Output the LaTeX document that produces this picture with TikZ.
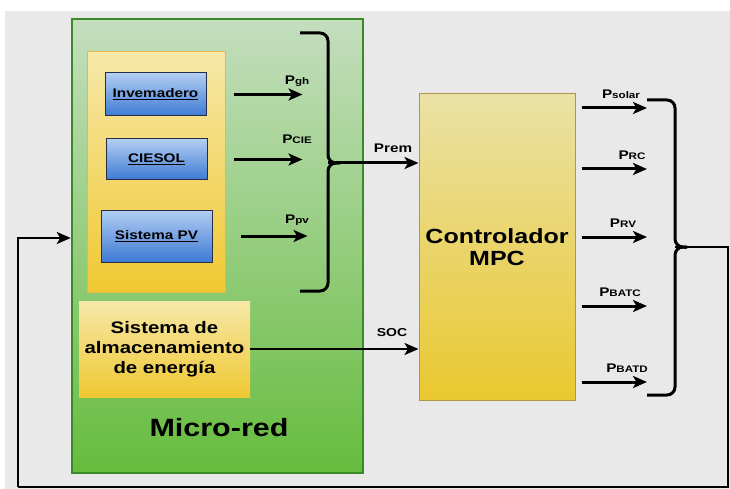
\documentclass[tikz,border=0pt]{standalone}
\usepackage{fontspec}
\setmainfont{Liberation Sans}[FakeStretch=1.22]
\usepackage{tikz}
\usetikzlibrary{arrows.meta,positioning,calc}
\definecolor{bggray}{RGB}{233,233,233}
\definecolor{mrtop}{RGB}{196,222,190}
\definecolor{mrbot}{RGB}{102,188,62}
\definecolor{mrline}{RGB}{58,138,42}
\definecolor{futop}{RGB}{246,232,168}
\definecolor{fubot}{RGB}{240,200,50}
\definecolor{fuline}{RGB}{232,182,70}
\definecolor{mpctop}{RGB}{234,225,165}
\definecolor{mpcbot}{RGB}{234,200,48}
\definecolor{mpcline}{RGB}{178,150,72}
\definecolor{srctop}{RGB}{178,206,242}
\definecolor{srcbot}{RGB}{62,122,212}
\definecolor{srcline}{RGB}{36,46,72}
\newcommand{\psub}[1]{\textbf{P}{\fontsize{9.5}{10}\selectfont\bfseries #1}}

\begin{document}
\begin{tikzpicture}[x=1pt, y=-1pt,
  box/.style={rectangle, draw, inner sep=0pt, align=center},
  src/.style={box, draw=srcline, line width=1pt, top color=srctop, bottom color=srcbot,
              minimum width=101pt, minimum height=43pt, font=\fontsize{12.5}{14}\selectfont\bfseries},
  lbl/.style={inner sep=0pt, font=\fontsize{12.5}{14}\selectfont\bfseries},
  arr/.style={-{Stealth[length=14pt,width=12pt,inset=3.5pt]}, line width=3pt},
  brace/.style={line width=3pt, rounded corners=8pt},
  fb/.style={line width=2.2pt},
]
\useasboundingbox (0,0) rectangle (730,489);
\fill[bggray] (5,11) rectangle (730,489);

% micro-red
\node[box, draw=mrline, line width=2.5pt, top color=mrtop, bottom color=mrbot,
      minimum width=291pt, minimum height=454pt] (microred) at (217.5,246) {};
\node[font=\fontsize{25}{28}\selectfont\bfseries] (mrlabel) at (219,428) {Micro-red};
\node[box, draw=fuline, line width=1pt, top color=futop, bottom color=fubot,
      minimum width=138pt, minimum height=240pt] (fuentes) at (156,172) {};
\node[src] (inver) at (155.5,94.5) {\underline{Invemadero}};
\node[src, minimum height=41pt] (ciesol) at (156.5,159.5) {\underline{CIESOL}};
\node[src, minimum width=111pt, minimum height=52pt] (pv) at (156.5,236) {\underline{Sistema PV}};
\node[box, draw=none, top color=futop, bottom color=fubot, minimum width=171pt, minimum height=96pt,
      font=\fontsize{16.7}{20}\selectfont\bfseries] (almac) at (164.5,349)
      {Sistema de\\almacenamiento\\de energía};

% controlador
\node[box, draw=mpcline, line width=1pt, top color=mpctop, bottom color=mpcbot,
      minimum width=156pt, minimum height=306pt, font=\fontsize{20.5}{22}\selectfont\bfseries]
      (mpc) at (497,247) {Controlador\\MPC};

% potencias de la micro-red
\coordinate (pgh) at ([xshift=96pt]inver.east);
\coordinate (pcie) at ([xshift=95pt]ciesol.east);
\coordinate (ppv) at ([xshift=95pt]pv.east);
\draw[arr] ([xshift=27pt]inver.east) -- (pgh);
\draw[arr] ([xshift=26pt]ciesol.east) -- (pcie);
\draw[arr] ([xshift=28pt]pv.east) -- (ppv);
\node[lbl] (lgh) at (297,81) {\psub{gh}};
\node[lbl] (lcie) at (297,139) {\psub{CIE}};
\node[lbl] (lpv) at (297,220) {\psub{pv}};

% llave de entrada
\coordinate (btop) at (300,33);
\coordinate (bbot) at (300,291);
\coordinate (btip) at (328,163);
\draw[brace] (btop) -- (btop -| btip) -- (btip) -- ++(12,0);
\draw[brace] (bbot) -- (bbot -| btip) -- (btip) -- ++(12,0);
\draw[arr] (btip) -- (btip -| mpc.west);
\node[lbl] (lrem) at (393,148) {Prem};

\draw[arr, line width=2.2pt] (almac.east) -- (almac.east -| mpc.west);
\node[lbl, font=\fontsize{11.5}{13}\selectfont\bfseries] (lsoc) at (392,333) {SOC};

% salidas del controlador
\foreach \yy/\sb/\lx in {108/solar/621, 169/RC/632, 237/RV/623, 306/BATC/620, 382/BATD/627}{
  \draw[arr] ($(mpc.east |- 0,\yy)+(6,0)$) coordinate (o\sb) -- (647,\yy);
  \node[lbl] (l\sb) at (\lx,\yy-14) {\psub{\sb}};
}

% llave de salida y realimentacion
\coordinate (rtop) at (647,100);
\coordinate (rbot) at (647,395);
\coordinate (rtip) at (675,247);
\draw[brace] (rtop) -- (rtop -| rtip) -- (rtip) -- ++(12,0);
\draw[brace] (rbot) -- (rbot -| rtip) -- (rtip) -- ++(12,0);
\coordinate (fbr) at (728,487);
\coordinate (fbl) at (18,487);
\coordinate (fbin) at (microred.west |- 0,238);
\draw[fb] (rtip) -| (fbr) -- (fbl);
\draw[fb, -{Stealth[length=14pt,width=12pt,inset=3.5pt]}] (fbl) |- (fbin);
\end{tikzpicture}
\end{document}
